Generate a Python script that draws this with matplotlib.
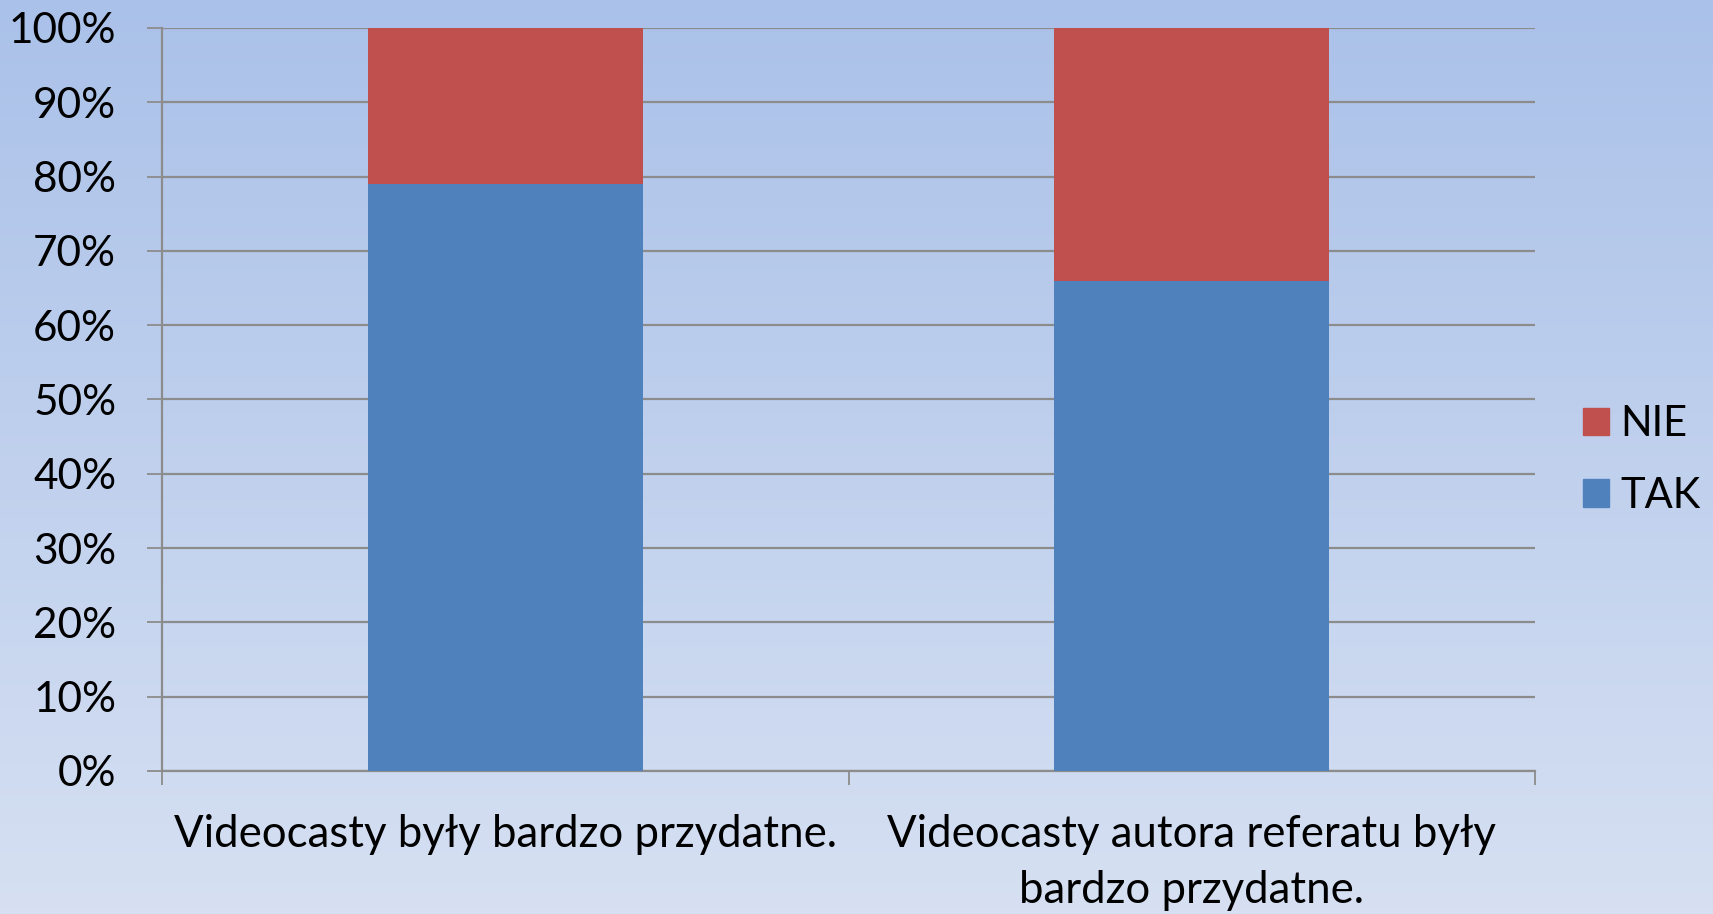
import numpy as np
import matplotlib.pyplot as plt
from matplotlib.colors import LinearSegmentedColormap
from matplotlib.patches import Patch

categories = ["Videocasty były bardzo przydatne.",
              "Videocasty autora referatu były\nbardzo przydatne."]
tak = [79, 66]
nie = [21, 34]
yticks = [0, 10, 20, 30, 40, 50, 60, 70, 80, 90, 100]

plt.rcParams['font.family'] = ['Lato', 'DejaVu Sans']

fig = plt.figure(figsize=(17.13, 9.14), dpi=100)

# gradient background
bg = fig.add_axes([0, 0, 1, 1], zorder=-10)
cmap = LinearSegmentedColormap.from_list("bg", ["#AAC1E9", "#D6E0F2"])
bg.imshow(np.linspace(0, 1, 256).reshape(-1, 1), aspect="auto", cmap=cmap,
          extent=[0, 1, 0, 1])
bg.axis("off")

ax = fig.add_axes([0.0946, 0.1565, 0.8015, 0.8129])
ax.set_facecolor("none")

x = np.arange(len(categories))
ax.bar(x, tak, width=0.4, color="#4F81BD", label="TAK", zorder=3)
ax.bar(x, nie, width=0.4, bottom=tak, color="#C0504D", label="NIE", zorder=3)

ax.set_xlim(-0.5, 1.5)
ax.set_ylim(0, 100)
ax.set_yticks(yticks)
ax.set_yticklabels([f"{v}%" for v in yticks])
ax.grid(axis="y", color="#8C8C8C", linewidth=1.6, zorder=1)

ax.set_xticks(x)
ax.set_xticklabels(categories, fontsize=31.5, linespacing=1.45)
ax.set_xticks([-0.5, 0.5, 1.5], minor=True)
ax.tick_params(axis="x", which="major", length=0, pad=31)
ax.tick_params(axis="x", which="minor", length=10, width=1.3, color="#8C8C8C",
               direction="out")
ax.tick_params(axis="y", length=11, width=1.3, color="#8C8C8C", pad=22,
               labelsize=30.5)

for s in ["top", "right"]:
    ax.spines[s].set_visible(False)
for s in ["left", "bottom"]:
    ax.spines[s].set_color("#8C8C8C")
    ax.spines[s].set_linewidth(1.6)

handles = [Patch(color="#C0504D", label="NIE"), Patch(color="#4F81BD", label="TAK")]
fig.legend(handles=handles, loc="center left", bbox_to_anchor=(0.924, 0.4967),
           frameon=False, fontsize=30, handlelength=0.64, handleheight=0.64,
           handletextpad=0.25, labelspacing=0.8, borderpad=0, borderaxespad=0)

fig.savefig("out.png", dpi=100)
